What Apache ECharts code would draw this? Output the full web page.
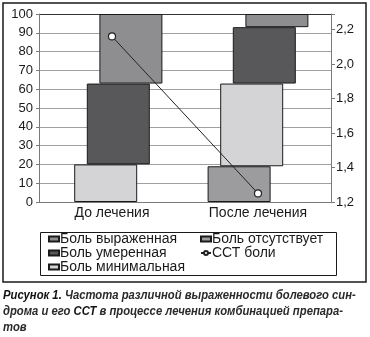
<!DOCTYPE html>
<html><head><meta charset="utf-8">
<script src="https://cdn.jsdelivr.net/npm/echarts@6/dist/echarts.min.js"></script>
<style>html,body{margin:0;padding:0;background:#fff}#c{width:370px;height:337px}</style>
</head><body><div id="c"></div>
<script>
const categories = ['До лечения', 'После лечения'];
const painAbsent = [0, 19];
const painMinimal = [20, 44];
const painModerate = [43, 30];
const painSevere = [37, 7];
const sstPain = [2.16, 1.25];
const seriesNames = ['Боль выраженная', 'Боль умеренная', 'Боль минимальная', 'Боль отсутствует', 'ССТ боли'];

const baseMinimal = painAbsent.slice();
const baseModerate = painAbsent.map((v, i) => v + painMinimal[i]);
const baseSevere = baseModerate.map((v, i) => v + painModerate[i]);
const noZero = arr => arr.map(v => (v === 0 ? '-' : v));

const FONT = 'Liberation Sans, Arial, sans-serif';
const TXT = '#1a1a1a';
const BW = 63, GAP = '-80%';
const barStyle = c => ({ color: c, borderColor: '#1a1a1a', borderWidth: 1 });
const helper = (stack, data) => ({
  type: 'bar', stack, data, barWidth: BW, barGap: GAP, silent: true,
  itemStyle: { color: 'rgba(0,0,0,0)', borderWidth: 0 }, emphasis: { disabled: true }
});

const chart = echarts.init(document.getElementById('c'), null, { renderer: 'canvas' });
const gridColors = [];
for (let i = 0; i < 10; i++) gridColors.push('#a0a0a0');
gridColors.push('#333333');

const legendText = { color: TXT, fontFamily: FONT, fontSize: 14, lineHeight: 14, padding: [0, 0, 0, -4] };

chart.setOption({
  animation: false,
  backgroundColor: '#fff',
  grid: { left: 39, right: 39, top: 14, bottom: 135 },
  xAxis: {
    type: 'category', data: categories,
    axisLine: { lineStyle: { color: '#7a7a7a' } },
    axisTick: { length: 4, lineStyle: { color: '#7a7a7a' } },
    axisLabel: { color: TXT, fontFamily: FONT, fontSize: 14, margin: 4 }
  },
  yAxis: [{
    type: 'value', min: 0, max: 100, interval: 10,
    axisLine: { show: true, lineStyle: { color: '#7a7a7a' } },
    axisTick: { show: true, length: 3, lineStyle: { color: '#7a7a7a' } },
    axisLabel: { color: TXT, fontFamily: FONT, fontSize: 13, margin: 6 },
    splitLine: { lineStyle: { color: gridColors, width: 1 } }
  }, {
    type: 'value', min: 1.2, max: 2.29, interval: 0.2,
    axisLine: { show: true, lineStyle: { color: '#7a7a7a' } },
    axisTick: { show: true, length: 4, lineStyle: { color: '#7a7a7a' } },
    axisLabel: { color: TXT, fontFamily: FONT, fontSize: 13, margin: 5,
      formatter: v => (Math.abs(v * 5 - Math.round(v * 5)) < 1e-6) ? v.toFixed(1).replace('.', ',') : '' },
    splitLine: { show: false }
  }],
  legend: [{
    orient: 'vertical', left: 48, top: 232, padding: 0, itemGap: 0,
    itemWidth: 10, itemHeight: 5,
    data: [seriesNames[0], seriesNames[1], seriesNames[2]].map(n => ({ name: n, icon: 'rect' })),
    textStyle: legendText
  }, {
    orient: 'vertical', left: 200, top: 232, padding: 0, itemGap: 0,
    itemWidth: 10, itemHeight: 5,
    data: [{ name: seriesNames[3], icon: 'rect' }, { name: seriesNames[4] }],
    textStyle: legendText
  }],
  series: [
    { name: seriesNames[3], type: 'bar', stack: 'a', data: noZero(painAbsent), barWidth: BW, barGap: GAP, itemStyle: barStyle('#9c9c9e') },
    helper('b', baseMinimal),
    { name: seriesNames[2], type: 'bar', stack: 'b', data: noZero(painMinimal), barWidth: BW, barGap: GAP, itemStyle: barStyle('#d4d4d6') },
    helper('c', baseModerate),
    { name: seriesNames[1], type: 'bar', stack: 'c', data: noZero(painModerate), barWidth: BW, barGap: GAP, itemStyle: barStyle('#58585a') },
    helper('d', baseSevere),
    { name: seriesNames[0], type: 'bar', stack: 'd', data: noZero(painSevere), barWidth: BW, barGap: GAP, itemStyle: barStyle('#8e8e90') },
    { name: seriesNames[4], type: 'line', yAxisIndex: 1, data: sstPain, symbol: 'circle', symbolSize: 7,
      lineStyle: { color: '#222', width: 1 }, itemStyle: { color: '#fff', borderColor: '#222', borderWidth: 1.2 }, z: 5 }
  ],
  graphic: [
    { type: 'rect', shape: { x: 3, y: 3, width: 363, height: 279 }, style: { fill: 'none', stroke: '#1a1a1a', lineWidth: 1.5 }, silent: true },
    { type: 'rect', shape: { x: 40.5, y: 232.5, width: 296, height: 43 }, style: { fill: 'none', stroke: '#1a1a1a', lineWidth: 1 }, silent: true },
    { type: 'text', x: 3, y: 288, scaleX: 0.94, silent: true, style: {
      text: '{b|Рисунок 1.} Частота различной выраженности болевого син-\nдрома и его {b|ССТ} в процессе лечения комбинацией препара-\nтов',
      font: 'italic bold 12px "Liberation Sans", Arial, sans-serif',
      fill: '#2a2a2a', lineHeight: 16,
      rich: { b: { font: 'italic 900 12px "Liberation Sans", Arial, sans-serif', fill: '#111', lineHeight: 16 } }
    } }
  ]
});
</script></body></html>
